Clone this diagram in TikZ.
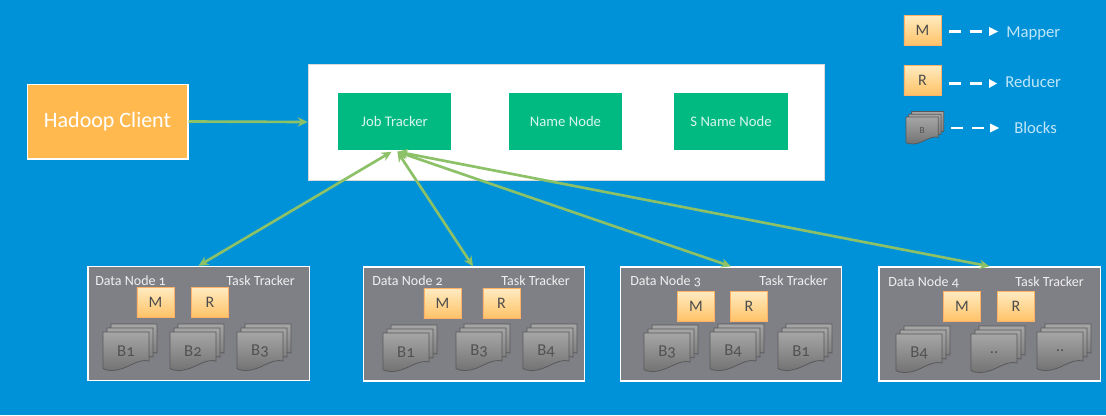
\documentclass[tikz,border=0pt]{standalone}
\usepackage{fontspec}
\setmainfont[Numbers=OldStyle]{Carlito}
\usetikzlibrary{arrows.meta}
\definecolor{bgblue}{HTML}{0092D8}
\definecolor{orangeb}{HTML}{FFB94F}
\definecolor{teal2}{HTML}{00BA82}
\definecolor{arrowg}{HTML}{8CC168}
\definecolor{panelg}{HTML}{7F7F86}
\definecolor{labl}{HTML}{BFE6F8}
\definecolor{mrtop}{HTML}{FFEBC0}
\definecolor{mrbot}{HTML}{FFC266}
\tikzset{
 x=0.75pt,y=-0.75pt,
 client/.style={draw=white,line width=1pt,fill=orangeb,text=white,font=\fontsize{16.5}{18}\selectfont,inner sep=0pt},
 panel/.style={draw=white!70!gray,line width=0.6pt,fill=white,inner sep=0pt},
 svc/.style={fill=teal2,text=white!85!teal2,font=\fontsize{11}{13}\selectfont,inner sep=0pt,minimum width=85pt,minimum height=43pt},
 dnode/.style={draw=white,line width=1pt,fill=panelg,inner sep=0pt,minimum width=166pt,minimum height=85.5pt},
 dtext/.style={text=white!88!gray,font=\fontsize{10.5}{12}\selectfont,inner sep=0pt},
 mr/.style={draw=orange!60!white,line width=0.5pt,top color=mrtop,bottom color=mrbot,text=black!70,font=\fontsize{12}{14}\selectfont,inner sep=0pt,minimum width=28pt,minimum height=22.5pt},
 link/.style={draw=arrowg,line width=2pt,-{Stealth[length=7.5pt,width=7pt]}},
 blink/.style={draw=arrowg,line width=2pt,{Stealth[length=7.5pt,width=7pt]}-{Stealth[length=7.5pt,width=7pt]}},
 dashlink/.style={draw=white,line width=2pt,dash pattern=on 9pt off 6.75pt},
 tip/.style={fill=white,draw=none},
 legend/.style={text=labl,anchor=west,font=\fontsize{12.5}{14}\selectfont,inner sep=0pt},
 blockpaper/.style={draw=black!65,line width=0.6pt,top color=black!35,bottom color=black!55},
 blocktext/.style={text=black!68,font=\fontsize{12.5}{14}\selectfont,inner sep=0pt},
}
\newcommand{\sheet}[2]{%
 \path[blockpaper,shift={(#1,#2)}] (0,0) -- (46,0) -- (46,29)
  .. controls (34,26) and (24,38) .. (10,38.5) .. controls (6,38.5) and (2,38) .. (0,36.5) -- cycle;}
% \blockstack{x}{y}{label}{scale}: x,y = top-left corner of the front sheet
\newcommand{\blockstack}[4]{%
 \begin{scope}[shift={(#1,#2)},scale=#4]
 \sheet{8}{-8}
 \sheet{4}{-4}
 \sheet{0}{0}
 \node[blocktext] at (23,19) {#3};
 \end{scope}}
\begin{document}
\begin{tikzpicture}
\useasboundingbox (0,0) rectangle (1106,415);
\fill[bgblue] (0,0) rectangle (1106,415);
% top row
\node[client,minimum width=120.5pt,minimum height=56pt] (client) at (107.5,121.5) {\raisebox{-0.8pt}{Hadoop Client}};
\node[panel,minimum width=387.5pt,minimum height=87pt] (master) at (566.5,122) {};
\node[svc] (jt) at (394.5,121.5) {\raisebox{-0.6pt}{Job Tracker}};
\node[svc] (nn) at (565.5,121.5) {\raisebox{-0.6pt}{Name Node}};
\node[svc] (snn) at (731,121.5) {\raisebox{-0.6pt}{S Name Node}};
% data nodes
\node[dnode] (d1) at (198.5,323.5) {};
\node[dnode] (d2) at (474,324) {};
\node[dnode] (d3) at (731,324) {};
\node[dnode] (d4) at (989.5,324) {};
\node[dtext,anchor=west] (d1a) at (95,281) {Data Node 1};
\node[dtext,anchor=east] (d1b) at (295,281) {Task Tracker};
\node[dtext,anchor=west] (d2a) at (372,281) {Data Node 2};
\node[dtext,anchor=east] (d2b) at (570,281) {Task Tracker};
\node[dtext,anchor=west] (d3a) at (630,281) {Data Node 3};
\node[dtext,anchor=east] (d3b) at (828,281) {Task Tracker};
\node[dtext,anchor=west] (d4a) at (888,282) {Data Node 4};
\node[dtext,anchor=east] (d4b) at (1084,282) {Task Tracker};
\node[mr] (m1) at (155.5,302.5) {M};
\node[mr] (r1) at (210,302.5) {R};
\node[mr] (m2) at (442.5,303.5) {M};
\node[mr] (r2) at (501.5,303.5) {R};
\node[mr] (m3) at (696,306.5) {M};
\node[mr] (r3) at (749,306.5) {R};
\node[mr] (m4) at (962,306.5) {M};
\node[mr] (r4) at (1016,306.5) {R};
\blockstack{103}{332}{B1}{1}
\blockstack{170}{332}{B2}{1}
\blockstack{237}{332}{B3}{1}
\blockstack{383}{333}{B1}{1}
\blockstack{456}{332}{B3}{1}
\blockstack{523}{332}{B4}{1}
\blockstack{644}{333}{B3}{1}
\blockstack{710}{332}{B4}{1}
\blockstack{778}{332}{B1}{1}
\blockstack{896}{334}{B4}{1}
\blockstack{971}{334}{..}{1}
\blockstack{1037}{332}{..}{1}
% connectors
\draw[link] (client.east) -- (master.west);
\draw[blink] ([xshift=-2.2pt,yshift=-1pt]jt.south) -- (d1.north);
\draw[blink] ([xshift=2.2pt,yshift=-1pt]jt.south) -- ([xshift=-0.75pt]d2.north);
\draw[blink] ([xshift=2.2pt,yshift=-1pt]jt.south) -- (d3.north);
\draw[blink] ([xshift=2.2pt,yshift=-1pt]jt.south) -- (d4.north);
% legend
\node[mr] (lm) at (922.5,30.5) {M};
\node[mr] (lr) at (922.5,80) {R};
\blockstack{906}{117}{\fontsize{7}{8}\selectfont B}{0.7}
\node[legend] (lmt) at (1006,33) {Mapper};
\node[legend] (lrt) at (1005,82) {Reducer};
\node[legend] (lbt) at (1014,128) {Blocks};
\coordinate (ma) at (949,31.5); \coordinate (mb) at (985,31.5);
\coordinate (ra) at (949,83.5); \coordinate (rb) at (985,83.5);
\coordinate (ba) at (951,128); \coordinate (bb) at (987,128);
\draw[dashlink] (ma) -- (mb);
\draw[dashlink] (ra) -- (rb);
\draw[dashlink] (ba) -- (bb);
\fill[tip] (989,27) -- (998,31.5) -- (989,36) -- cycle;
\fill[tip] (989,79) -- (997,83.5) -- (989,88) -- cycle;
\fill[tip] (990,123.5) -- (999,128) -- (990,132.5) -- cycle;
\end{tikzpicture}
\end{document}
